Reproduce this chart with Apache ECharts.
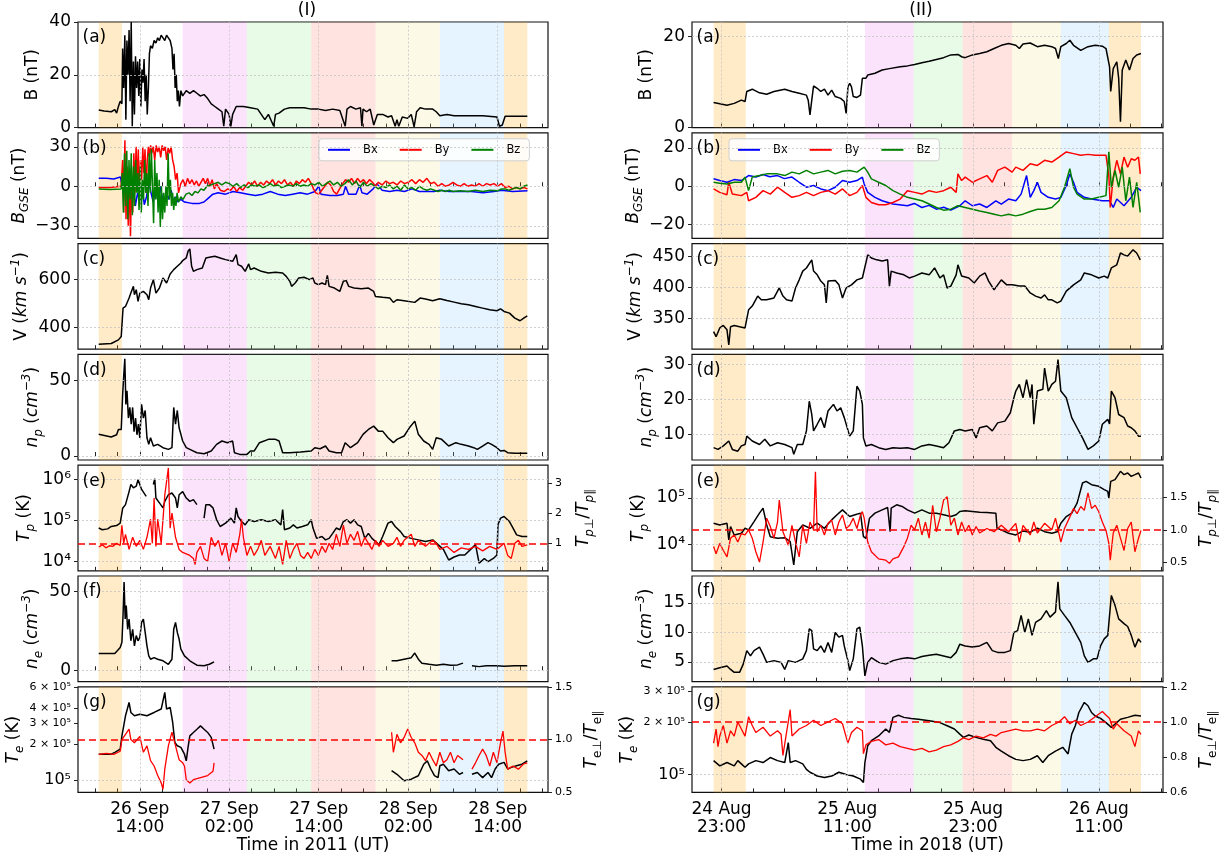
<!DOCTYPE html>
<html><head><meta charset="utf-8">
<script src="https://cdn.jsdelivr.net/npm/echarts/dist/echarts.min.js"></script>
<style>html,body{margin:0;padding:0;background:#fff}#c{width:1222px;height:862px}</style>
</head><body><div id="c"></div>
<script>
// ---------------- DATA (hours; left: since 26 Sep 2011 00:00 UT, right: since 24 Aug 2018 00:00 UT) ----------------
const L_xRange = [5.71, 68.75];
const R_xRange = [20.18, 65.13];
const L_labelHours = [14, 26, 38, 50, 62];
const L_labelText = ['26 Sep\n14:00', '27 Sep\n02:00', '27 Sep\n14:00', '28 Sep\n02:00', '28 Sep\n14:00'];
const R_labelHours = [23, 35, 47, 59];
const R_labelText = ['24 Aug\n23:00', '25 Aug\n11:00', '25 Aug\n23:00', '26 Aug\n11:00'];
const L_bands = [[8.49, 11.60], [19.75, 28.37], [28.37, 36.99], [36.99, 45.62], [45.62, 54.24], [54.24, 62.86], [62.86, 65.98]];
const R_bands = [[22.24, 25.31], [36.68, 41.33], [41.33, 46.01], [46.01, 50.73], [50.73, 55.38], [55.38, 59.96], [59.96, 63.03]];
const compNames = ['Bx', 'By', 'Bz'];

const L_B = [[8.49,6.7],[9.21,6.3],[10.17,6.0],[10.65,6.8],[10.89,5.5],[11.13,8],[11.37,10],[11.6,9],[11.7,30],[11.84,15],[11.99,35],[12.13,3],[12.27,33],[12.42,20],[12.56,37],[12.7,10],[12.85,40],[12.99,0.5],[13.14,25],[13.28,5],[13.42,27],[13.57,15],[13.71,25],[13.86,12],[14.0,26],[14.14,8],[14.29,22],[14.43,17],[14.57,26],[14.72,10],[14.86,20],[15.0,5],[15.15,15],[15.29,28],[15.44,31],[15.68,30],[15.92,33],[16.16,32],[16.4,34],[16.63,33],[16.87,35],[17.11,34],[17.35,33],[17.59,35],[17.83,34],[18.07,33],[18.31,30],[18.45,22],[18.6,28],[18.74,15],[18.89,20],[19.03,10],[19.17,14],[19.32,8],[19.51,14],[19.75,12],[20.23,14],[20.71,13],[21.2,14],[21.66,13],[22.1,12],[22.62,12.5],[23.1,11],[23.58,9],[24.06,8],[24.54,7],[25.02,6],[25.26,0.5],[25.5,7],[25.98,5],[26.21,0.5],[26.45,5],[26.93,8],[27.89,8],[28.85,7.5],[29.81,7],[30.29,5],[30.77,3],[31.25,5],[31.96,0.5],[32.2,5],[32.68,5.5],[33.4,7],[34.12,7.5],[35.08,7.5],[36.04,7.5],[37.0,7],[37.95,7],[38.91,6.5],[39.87,7],[40.83,6.5],[41.55,0.5],[41.79,7],[42.26,8],[42.98,7],[43.6,7.5],[43.79,0.5],[43.94,7],[44.42,6],[44.9,7],[45.38,1],[45.62,0.3],[45.86,5],[46.58,5],[47.29,4],[47.77,4.5],[48.25,0.5],[48.49,3],[48.73,0.5],[49.21,4],[49.93,3.5],[50.41,5],[50.79,0.3],[51.12,6],[51.6,7.5],[52.32,7],[53.28,7],[53.76,6],[54.24,4.5],[55.2,5],[56.16,4.5],[58.08,4.5],[59.99,4.5],[61.91,4],[62.24,0.5],[62.62,1],[63.0,4.3],[64.3,4.3],[65.98,4.3]];

const L_Bx = [[8.49,6],[9.5,6],[10.5,5.5],[11.4,7],[11.6,8],[11.8,-5],[12.0,5],[12.2,-10],[12.5,3],[12.8,-12],[13.1,2],[13.4,-15],[13.7,-5],[14.0,-12],[14.3,0],[14.6,-14],[14.9,-8],[15.2,5],[15.5,-5],[15.8,-12],[16.1,-2],[16.4,-10],[16.7,0],[17.0,-8],[17.3,-12],[17.6,-5],[17.9,-10],[18.2,-3],[18.5,-12],[18.8,-8],[19.1,-12],[19.5,-10],[20.0,-12],[21.0,-13],[22.0,-13],[22.6,-12],[23.2,-9],[23.8,-6],[24.5,-5],[25.5,-6],[26.5,-4],[27.5,-5],[28.5,-6],[29.5,-7],[30.5,-6],[31.5,-4],[32.5,-6],[33.5,-7],[34.5,-6],[35.5,-5],[36.5,-6],[37.5,-4],[38.0,0],[38.3,-6],[39.5,-7],[40.5,-7],[41.3,-6],[41.6,0],[42.0,-6],[43.0,-6],[43.5,1],[43.8,-5],[44.5,-6],[45.3,-2],[45.8,2],[46.5,-3],[47.5,-4],[48.5,-3],[49.5,-4],[50.5,-2],[51.5,-4],[52.5,-4],[53.5,-4],[54.2,-3],[55.5,-4],[57,-4],[58.5,-4],[60,-5],[61.5,-4],[62.5,-3],[64,-4],[66,-3.5]];

const L_By = [[8.49,-1],[10,-1],[11.5,0],[11.7,20],[11.85,-20],[12.0,35],[12.15,-25],[12.3,15],[12.45,-30],[12.6,10],[12.75,-38],[12.9,5],[13.05,-20],[13.2,25],[13.35,-5],[13.5,30],[13.65,0],[13.8,28],[13.95,-15],[14.1,20],[14.25,5],[14.4,30],[14.55,10],[14.7,28],[14.85,-5],[15.0,20],[15.15,30],[15.3,22],[15.45,31],[15.6,25],[15.8,30],[16.0,20],[16.2,31],[16.4,26],[16.6,30],[16.8,22],[17.0,31],[17.2,27],[17.4,30],[17.6,20],[17.8,29],[18.0,25],[18.2,30],[18.4,20],[18.6,15],[18.8,5],[19.0,10],[19.2,-5],[19.5,2],[19.8,5],[20.1,0],[20.4,6],[20.7,2],[21.0,5],[21.3,1],[21.6,4],[21.9,0],[22.2,3],[22.5,6],[22.8,2],[23.1,6],[23.4,0],[23.7,5],[24.0,-2],[24.3,2],[24.8,-3],[25.3,-4],[25.8,-2],[26.2,-3],[26.6,0],[27.0,-4],[27.4,-1],[27.8,-3],[28.2,0],[28.6,3],[29.0,1],[29.4,4],[29.8,0],[30.2,3],[30.6,1],[31.0,4],[31.4,2],[31.8,5],[32.2,1],[32.6,4],[33.0,2],[33.4,5],[33.8,1],[34.2,3],[34.6,0],[35.0,4],[35.4,2],[35.8,5],[36.2,3],[36.6,6],[37.0,2],[37.3,-2],[37.6,-5],[38.0,-6],[38.4,-3],[38.8,0],[39.2,3],[39.6,1],[40.0,-4],[40.4,-6],[40.8,-2],[41.2,2],[41.6,5],[42.0,3],[42.4,6],[42.8,2],[43.2,6],[43.6,3],[44.0,5],[44.4,2],[44.8,5],[45.2,3],[45.6,0],[46.0,3],[46.5,1],[47.0,4],[47.5,2],[48.0,3],[48.5,1],[49.0,4],[49.5,2],[50.0,3],[50.5,5],[51.0,2],[51.5,5],[52.0,3],[52.5,6],[53.0,2],[53.5,3],[54.0,0],[54.5,2],[55.0,0],[55.5,1],[56.0,3],[56.5,1],[57.0,0],[57.5,2],[58.0,0],[58.5,1],[59.0,0],[59.5,2],[60.0,0],[60.5,2],[61.0,1],[61.5,2],[62.0,0],[62.5,2],[63.0,-1],[63.5,0],[64.0,-2],[64.5,-1],[65.0,-2],[65.5,-1],[66.0,-2]];

const L_Bz = [[8.49,-2],[10,-2.5],[11.5,-2],[11.65,10],[11.8,-20],[11.95,25],[12.1,-15],[12.25,27],[12.4,-25],[12.55,20],[12.7,-10],[12.85,25],[13.0,-22],[13.15,15],[13.3,-15],[13.45,20],[13.6,-5],[13.75,10],[13.9,-18],[14.05,15],[14.2,-20],[14.35,5],[14.5,-10],[14.65,20],[14.8,-5],[14.95,10],[15.1,-15],[15.25,25],[15.4,-5],[15.55,28],[15.7,0],[15.85,-28],[16.0,20],[16.15,-10],[16.3,10],[16.45,-20],[16.6,5],[16.75,-31],[16.9,0],[17.05,-25],[17.2,-5],[17.35,-20],[17.5,0],[17.65,-15],[17.8,25],[17.95,-10],[18.1,5],[18.25,-15],[18.4,-5],[18.55,-18],[18.7,-8],[18.85,-15],[19.0,-5],[19.2,-12],[19.5,-8],[19.8,-10],[20.2,-6],[20.6,-5],[21.0,-7],[21.4,-4],[21.8,-5],[22.2,-2],[22.6,-3],[23.0,0],[23.5,1],[24.0,2],[24.5,3],[25.0,1],[25.5,3],[26.0,2],[26.5,0],[27.0,2],[27.5,-1],[28.0,1],[28.5,-1],[29.0,1],[29.5,0],[30.0,1],[30.5,-1],[31.0,0],[31.5,2],[32.0,0],[32.5,1],[33.0,-1],[33.5,0],[34.0,1],[34.5,0],[35.0,2],[35.5,0],[36.0,1],[36.5,0],[37.0,2],[37.5,1],[38.0,3],[38.5,0],[39.0,2],[39.5,4],[40.0,1],[40.5,3],[41.0,0],[41.5,2],[42.0,5],[42.5,1],[43.0,4],[43.5,-1],[44.0,3],[44.5,0],[45.0,2],[45.5,0],[46.0,-2],[46.5,0],[47.0,-1],[47.5,1],[48.0,-2],[48.5,0],[49.0,-3],[49.5,1],[50.0,-2],[50.5,-1],[51.0,-3],[51.5,0],[52.0,-2],[52.5,-3],[53.0,-2],[53.5,-3],[54.0,-4],[54.5,-3],[55.0,-4],[55.5,-3],[56.0,-4],[57,-3.5],[58,-4],[59,-3],[60,-4],[61,-3],[62,-3.5],[62.5,-2],[63,-2],[63.5,-3],[64,-2],[64.5,-1],[65,-2],[65.5,0],[66,1]];

const L_V = [[8.49,330],[10.17,333],[11.13,348],[11.51,362],[11.6,365],[11.75,481],[12.08,488],[12.32,495],[12.56,523],[12.8,544],[13.14,572],[13.28,537],[13.52,558],[13.76,509],[14.0,544],[14.48,551],[14.96,537],[15.2,516],[15.44,565],[15.82,600],[16.16,544],[16.63,565],[17.11,607],[17.59,586],[18.07,624],[18.55,642],[19.03,656],[19.51,670],[19.75,680],[20.23,691],[20.47,719],[20.71,729],[20.95,656],[21.19,635],[21.66,642],[22.38,649],[22.86,691],[23.34,694],[24.06,698],[24.78,691],[25.5,684],[26.45,677],[26.93,705],[27.17,663],[27.65,656],[28.13,635],[28.61,666],[28.85,642],[29.33,649],[30.29,635],[31.24,628],[32.2,631],[33.16,628],[33.64,614],[34.12,593],[34.36,572],[34.84,586],[35.32,607],[36.03,610],[36.75,600],[37.23,607],[37.47,586],[37.95,579],[38.43,586],[38.91,579],[39.15,618],[39.39,572],[40.11,565],[40.82,551],[41.3,593],[41.69,596],[42.02,572],[42.74,565],[43.7,562],[44.66,565],[45.37,551],[45.61,530],[46.57,526],[47.53,523],[48.01,505],[48.49,516],[49.45,512],[50.88,505],[51.6,523],[52.32,519],[53.28,512],[54.24,520],[55.19,513],[56.15,506],[57.11,499],[58.07,495],[59.03,488],[59.98,481],[60.94,474],[61.9,470],[62.38,478],[62.86,467],[63.58,460],[64.3,439],[65.01,428],[65.49,439],[65.97,449]];

const L_np = [[8.49,14.3],[10.17,12.5],[10.89,14],[11.13,17.5],[11.51,17.5],[11.7,40.6],[11.84,52.6],[11.99,64],[12.13,34],[12.28,43],[12.47,25],[12.66,32],[12.85,21],[13.04,32],[13.23,16],[13.43,25],[13.62,14],[13.81,21],[14.0,12],[14.24,34],[14.48,25],[14.72,30],[14.96,12],[15.2,7.7],[15.44,12],[15.82,6.6],[16.4,7.7],[17.11,5.5],[17.83,4.4],[18.31,5.5],[18.55,32],[18.79,21],[19.03,30],[19.27,18.6],[19.51,14.3],[19.75,9.9],[20.23,5.5],[20.71,4.4],[21.66,2.2],[22.62,1.5],[23.58,3.3],[24.3,7.7],[25.02,9.9],[25.74,8.8],[26.45,9.9],[26.69,2.2],[27.41,1.1],[28.37,1.1],[28.85,3.3],[29.33,3.3],[30.05,8.8],[31.24,11],[32.2,11],[32.68,9.9],[33.16,2.2],[34.12,2.2],[35.56,2.6],[36.99,3.3],[37.47,5.5],[38.19,4.8],[38.91,6.6],[39.39,3.3],[40.35,2.2],[41.06,2.2],[41.54,8.8],[42.26,5.5],[43.22,8.8],[43.94,14.3],[44.66,17.5],[45.37,19.7],[45.61,20.8],[45.99,16.4],[46.57,16.4],[47.29,12],[48.01,8.8],[48.49,11],[49.45,13.2],[50.16,18.6],[50.88,23],[51.36,14.3],[52.08,9.9],[52.8,7.7],[53.28,4.4],[53.76,12],[54.48,11],[55.43,6.6],[56.39,8.8],[57.11,7.7],[58.07,6.6],[58.79,5.5],[59.27,4.4],[59.98,6.6],[60.7,8.8],[61.18,7.7],[61.9,5.5],[62.38,3.3],[62.86,3.7],[63.34,2.2],[64.3,1.8],[65.97,1.8]];

const L_Tp = [[8.49,6.6e4],[8.97,6.0e4],[9.69,6.3e4],[10.17,7.2e4],[10.89,7.6e4],[11.37,8.7e4],[11.6,9.5e4],[11.7,2.0e5],[12.08,2.45e5],[12.56,5.1e5],[12.8,7.6e5],[13.14,6.3e5],[13.52,6.9e5],[13.76,1.0e6],[14.0,7.6e5],[14.24,5.75e5],[14.48,6.3e5],[14.86,3.9e5],[14.96,'-'],[15.68,'-'],[15.82,7.6e5],[16.01,1.05e6],[16.16,3.55e5],[16.63,2.7e5],[17.11,2.04e5],[17.35,2.95e5],[17.83,4.27e5],[18.31,4.7e5],[18.79,3.55e5],[19.03,2.04e5],[19.27,4.27e5],[19.75,5.1e5],[20.23,3.55e5],[20.71,2.95e5],[21.19,3.24e5],[21.66,2.45e5],[21.9,'-'],[22.5,'-'],[22.62,1.15e5],[22.86,2.45e5],[23.34,2.45e5],[23.82,2.04e5],[24.3,1.05e5],[24.78,7.2e4],[25.5,8.7e4],[26.21,1.15e5],[26.69,8.7e4],[26.93,2.04e5],[27.17,1.26e5],[27.65,9.5e4],[28.13,7.9e4],[28.61,1.05e5],[29.33,9.5e4],[30.29,1.05e5],[31.24,9.5e4],[32.2,1.05e5],[32.92,7.9e4],[33.16,1.86e5],[33.4,6.0e4],[34.12,6.6e4],[34.6,7.9e4],[35.08,6.6e4],[35.8,7.2e4],[36.51,7.9e4],[36.99,1.05e5],[37.23,6.6e4],[37.71,3.7e4],[38.43,4.1e4],[38.91,3.4e4],[39.39,3.7e4],[39.87,4.9e4],[40.35,6.6e4],[40.83,6.0e4],[41.3,9.5e4],[41.78,1.05e5],[42.26,8.7e4],[42.74,1.05e5],[43.22,7.9e4],[43.7,7.2e4],[44.18,3.7e4],[44.66,4.9e4],[45.14,3.7e4],[45.61,3.1e4],[46.09,2.6e4],[46.57,4.1e4],[47.29,8.7e4],[47.77,9.5e4],[48.25,7.2e4],[48.97,5.4e4],[49.45,4.1e4],[50.41,3.7e4],[51.36,3.4e4],[52.32,3.1e4],[53.28,3.4e4],[54.0,2.6e4],[54.72,2.0e4],[55.43,1.1e4],[56.15,1.3e4],[56.87,1.45e4],[57.59,1.45e4],[58.55,2.14e4],[59.03,2.6e4],[59.51,0.92e4],[60.22,1.2e4],[60.7,1.0e4],[61.42,1.2e4],[61.9,1.45e4],[62.04,7.9e4],[62.38,1.15e5],[62.86,1.26e5],[63.58,9.5e4],[64.06,6.6e4],[64.54,4.5e4],[65.26,4.1e4],[65.97,4.1e4]];

const L_TpRatio = [[8.49,0.88],[8.97,0.95],[9.45,0.85],[9.93,0.92],[10.41,0.9],[10.89,1.0],[11.37,0.93],[11.6,1.6],[11.84,1.0],[12.08,1.3],[12.56,0.8],[13.04,1.2],[13.52,0.9],[14.0,1.1],[14.48,0.8],[14.96,1.2],[15.44,1.8],[15.68,1.0],[15.92,2.5],[16.16,0.9],[16.4,1.8],[16.87,1.0],[17.35,2.6],[17.83,3.5],[18.07,1.5],[18.31,2.0],[18.79,1.2],[19.27,0.8],[19.75,0.7],[20.23,0.65],[20.71,0.6],[21.19,0.5],[21.42,0.3],[21.66,0.7],[22.14,0.9],[22.62,0.5],[23.1,0.4],[23.58,1.2],[24.06,0.9],[24.54,1.1],[25.02,0.6],[25.5,1.0],[25.98,0.4],[26.45,1.0],[26.93,0.7],[27.41,1.3],[27.65,1.8],[27.89,1.2],[28.37,0.6],[28.85,0.9],[29.33,0.6],[29.81,0.8],[30.29,1.1],[30.77,0.6],[31.48,0.9],[32.2,0.5],[32.68,0.9],[33.16,0.3],[33.64,1.1],[34.12,0.5],[34.6,0.8],[35.08,1.0],[35.56,0.6],[36.03,0.5],[36.51,0.7],[36.99,0.5],[37.47,0.8],[37.95,0.6],[38.43,0.9],[38.91,0.7],[39.39,1.0],[39.87,0.8],[40.35,1.3],[40.83,0.9],[41.3,1.6],[41.78,1.0],[42.26,1.3],[42.74,1.1],[43.22,1.4],[43.7,0.9],[44.18,1.2],[44.66,1.0],[45.14,0.8],[45.61,1.1],[46.09,0.9],[46.57,1.1],[47.29,0.9],[48.01,1.0],[48.49,1.2],[48.97,0.9],[49.45,1.1],[50.41,1.3],[50.88,0.9],[51.36,1.1],[52.32,0.9],[53.28,1.1],[53.76,1.0],[54.24,0.8],[55.19,0.9],[56.15,0.7],[57.11,0.85],[58.07,0.8],[59.03,0.9],[59.98,0.75],[60.94,0.9],[61.9,0.8],[62.86,1.0],[63.34,0.6],[63.82,0.5],[64.3,1.0],[64.78,1.1],[65.26,0.9],[65.97,0.95]];

const L_ne = [[8.49,10.6],[10.65,10.6],[10.89,11.3],[11.37,14.5],[11.6,17.7],[11.75,34.7],[11.89,56],[12.04,32.5],[12.18,41],[12.37,26],[12.56,32.5],[12.8,18.7],[13.04,26],[13.28,15.5],[13.52,22],[13.76,18.7],[14.0,20.8],[14.24,30.4],[14.48,32.5],[14.72,24],[14.96,15.5],[15.2,9.1],[15.44,7],[15.92,8],[16.4,7],[17.11,6],[17.83,3.8],[18.31,7],[18.55,26],[18.79,30.4],[19.03,24],[19.27,19.8],[19.51,13.4],[19.75,12.3],[19.99,9.1],[20.23,10.2],[20.71,6],[21.66,3.2],[22.62,2.8],[23.34,3.8],[23.96,5.3],[24.0,'-'],[47.7,'-'],[47.77,6],[48.49,6],[49.45,7],[50.41,8],[50.88,10.9],[51.36,7],[51.84,4.5],[52.8,3.8],[53.76,3.2],[54.72,3.8],[55.67,3.2],[56.63,3.4],[57.35,4.5],[57.6,'-'],[58.4,'-'],[58.55,2.8],[59.51,2.3],[60.46,2.8],[61.9,2.8],[62.86,2.6],[64.3,2.8],[65.97,2.8]];

const L_Te = [[8.49,1.65e5],[10.17,1.65e5],[10.65,1.71e5],[11.37,1.82e5],[11.6,2.35e5],[12.08,3.46e5],[12.56,4.47e5],[12.8,3.69e5],[13.28,3.46e5],[14.0,3.57e5],[14.96,3.46e5],[15.92,3.69e5],[16.87,3.94e5],[17.35,5.43e5],[17.59,3.94e5],[18.07,4.06e5],[18.41,3.04e5],[18.7,2.07e5],[19.03,1.94e5],[19.51,1.88e5],[19.99,1.65e5],[20.23,1.45e5],[20.47,1.88e5],[20.71,2.35e5],[21.19,2.51e5],[21.66,2.67e5],[22.14,2.85e5],[22.62,2.67e5],[23.1,2.51e5],[23.58,2.28e5],[23.96,1.82e5],[24.0,'-'],[47.7,'-'],[47.77,1.2e5],[48.49,1.12e5],[49.45,9.9e4],[50.41,1.02e5],[51.36,1.09e5],[52.08,1.36e5],[52.56,1.45e5],[53.04,1.24e5],[53.52,1.09e5],[54.0,1.05e5],[54.24,1.32e5],[54.72,1.36e5],[55.43,1.2e5],[56.15,1.24e5],[56.87,1.12e5],[57.35,1.16e5],[57.6,'-'],[58.4,'-'],[58.55,1.12e5],[59.27,1.16e5],[59.98,1.05e5],[60.7,1.16e5],[61.18,1.05e5],[61.66,1.24e5],[62.14,1.36e5],[62.86,1.41e5],[63.34,1.24e5],[63.82,1.28e5],[64.54,1.32e5],[65.26,1.36e5],[65.97,1.45e5]];

const L_TeRatio = [[8.49,0.86],[9.5,0.87],[10.5,0.86],[11.37,0.89],[11.6,1.0],[12.08,1.05],[12.56,1.1],[12.8,1.0],[13.28,0.97],[14.0,1.03],[14.48,0.88],[14.96,0.94],[15.44,0.8],[15.92,0.75],[16.4,0.66],[16.87,0.59],[17.11,0.53],[17.35,0.72],[17.83,0.94],[18.31,1.07],[18.79,0.94],[19.27,0.81],[19.75,0.78],[19.99,0.75],[20.23,0.62],[20.71,0.59],[21.19,0.62],[22.14,0.64],[23.1,0.66],[23.82,0.7],[23.96,0.78],[24.0,'-'],[47.7,'-'],[47.77,1.07],[48.01,0.88],[48.49,1.05],[48.97,0.97],[49.45,1.02],[49.93,1.1],[50.41,1.02],[50.88,0.97],[51.36,0.88],[51.84,0.85],[52.32,0.8],[52.8,0.88],[53.28,0.81],[53.76,0.75],[54.24,0.88],[54.72,0.78],[55.19,0.81],[55.67,0.88],[56.15,0.78],[56.63,0.85],[57.35,0.81],[57.6,'-'],[58.4,'-'],[58.55,0.72],[59.03,0.78],[59.51,0.85],[59.98,0.91],[60.46,0.85],[60.94,0.75],[61.42,0.88],[61.9,0.78],[62.38,0.97],[62.71,1.08],[63.0,0.88],[63.34,0.72],[64.06,0.75],[64.78,0.72],[65.49,0.77],[65.97,0.78]];

const R_B = [[22.24,5.5],[22.83,5.2],[23.52,4.9],[24.21,5.3],[24.89,6.0],[25.24,5.7],[25.41,7.9],[25.93,8.4],[26.62,7.6],[27.31,7.3],[28.0,7.9],[29.03,8.4],[29.72,7.9],[30.41,7.5],[31.1,7.1],[31.27,6.0],[31.44,2.8],[31.61,6.0],[31.78,9.1],[32.13,8.6],[32.47,7.9],[32.82,8.4],[33.16,7.1],[33.51,8.2],[33.85,6.8],[34.37,6.4],[34.71,5.7],[34.89,3.1],[35.06,8.9],[35.23,9.7],[35.4,8.9],[35.57,6.8],[35.92,6.6],[36.26,7.1],[36.44,10.8],[36.78,10.8],[36.95,11.5],[37.64,11.9],[38.33,12.6],[39.02,12.9],[40.05,13.3],[40.74,13.5],[41.43,13.8],[42.12,14.2],[42.81,14.5],[43.5,14.9],[44.19,15.3],[44.88,15.9],[45.56,16.0],[45.91,15.5],[46.25,15.3],[46.94,15.9],[47.63,16.2],[48.32,16.6],[49.01,17.3],[49.7,18.0],[50.39,18.4],[51.08,18.0],[51.42,17.3],[51.77,18.3],[52.46,18.5],[53.14,17.7],[53.83,18.0],[54.52,17.7],[54.87,17.3],[55.14,15.1],[55.38,17.7],[55.9,18.4],[56.24,19.1],[56.59,18.0],[57.28,16.9],[57.97,17.7],[58.66,18.0],[59.34,17.8],[59.69,17.3],[59.86,16.9],[60.03,13.3],[60.14,7.9],[60.38,12.9],[60.72,14.4],[60.9,10.8],[61.07,1.3],[61.24,12.6],[61.58,14.8],[61.93,12.6],[62.27,15.1],[62.62,15.9],[63.03,16.2]];

const R_Bx = [[22.24,3.9],[22.83,3.0],[23.52,2.1],[24.2,3.5],[24.89,3.0],[25.58,5.6],[26.27,4.8],[26.96,6.2],[27.6,5.0],[28.34,5.6],[29.0,4.0],[29.72,4.8],[30.41,2.1],[31.1,-0.5],[31.78,0.4],[32.47,-1.4],[33.16,-2.3],[33.85,-0.5],[34.54,3.0],[35.23,2.1],[35.92,3.0],[36.44,4.8],[36.61,1.2],[36.95,-3.2],[37.64,-5.8],[38.33,-7.6],[39.36,-9.3],[40.74,-10.2],[41.4,-9.0],[42.12,-11.1],[42.8,-10.0],[43.5,-12.0],[44.2,-11.0],[44.88,-12.5],[45.74,-10.2],[46.25,-7.6],[46.94,-10.2],[47.63,-9.3],[48.32,-11.1],[49.18,-7.6],[49.7,-9.3],[50.39,-6.7],[51.08,-7.6],[51.59,-4.1],[52.11,5.6],[52.46,-5.8],[52.8,-2.3],[53.14,2.1],[53.49,-3.2],[54.18,-5.8],[54.87,-6.7],[55.38,-5.8],[55.9,0.4],[56.24,6.5],[56.59,2.1],[56.93,-3.2],[57.62,-5.8],[58.31,-6.7],[59.34,-7.6],[60.03,-7.6],[60.38,-11.1],[60.72,-6.7],[61.41,-10.2],[62.1,-5.8],[62.62,-0.5],[63.03,-2.3]];

const R_By = [[22.24,-1.4],[22.83,-3.2],[23.52,-4.4],[23.69,2.1],[24.03,-4.1],[24.89,-4.9],[25.41,-3.2],[25.58,-7.6],[26.27,-5.8],[26.96,-2.3],[27.65,-4.1],[28.34,-0.5],[29.03,-3.2],[29.72,-5.8],[30.41,-4.9],[31.1,-3.2],[31.78,-4.9],[32.47,-3.2],[33.16,-2.3],[33.85,-4.1],[34.54,-1.4],[35.23,-4.9],[35.92,-3.2],[36.44,0.4],[36.78,-5.8],[37.3,-8.5],[37.99,-9.7],[38.67,-9.7],[39.36,-8.5],[40.05,-6.7],[40.74,-2.3],[41.43,-3.2],[42.12,-4.1],[42.81,-2.3],[43.5,-3.2],[44.19,-2.3],[44.88,-0.5],[45.39,-3.2],[45.56,6.5],[45.91,3.0],[46.25,4.8],[46.94,2.1],[47.63,3.9],[48.32,5.6],[48.84,2.1],[49.35,8.3],[50.04,10.0],[50.73,7.4],[51.08,10.0],[51.77,8.3],[52.46,11.8],[53.14,10.9],[53.83,13.6],[54.52,12.7],[55.21,15.3],[55.9,18.0],[56.59,17.1],[57.28,16.2],[57.97,16.7],[58.66,16.2],[59.69,16.2],[59.96,5.6],[60.1,-11.1],[60.38,4.8],[60.72,13.6],[61.07,6.5],[61.41,15.3],[61.76,10.0],[62.1,14.4],[62.45,13.6],[62.79,15.3],[62.96,6.5]];

const R_Bz = [[22.24,2.1],[22.83,1.6],[23.52,1.2],[24.21,2.1],[24.89,2.1],[25.24,4.8],[25.58,-2.3],[25.93,4.8],[26.62,5.6],[27.31,6.5],[28.34,6.5],[29.03,5.6],[29.72,7.4],[30.41,6.5],[31.1,8.3],[31.78,6.5],[32.47,7.4],[33.16,8.3],[33.85,6.5],[34.54,7.9],[35.23,8.3],[35.92,7.4],[36.61,10.0],[36.95,7.4],[37.3,3.9],[37.99,2.1],[38.67,0.4],[39.36,-2.3],[40.05,-4.1],[40.74,-5.8],[41.43,-6.7],[42.12,-7.6],[42.81,-9.3],[43.5,-11.1],[44.19,-12.5],[44.88,-12.0],[45.56,-10.2],[46.25,-11.1],[46.94,-12.0],[47.63,-12.9],[48.32,-13.7],[49.01,-14.6],[49.7,-15.5],[50.39,-14.6],[51.08,-15.5],[51.77,-14.6],[52.46,-13.2],[53.14,-12.0],[53.83,-12.0],[54.52,-11.1],[55.21,-7.6],[55.73,-0.5],[56.24,9.2],[56.59,-0.5],[56.93,-4.1],[57.62,-6.7],[58.31,-6.7],[59.0,-5.8],[59.69,-4.9],[59.96,18.0],[60.2,-0.5],[60.55,8.3],[60.9,-0.5],[61.24,10.0],[61.58,-7.6],[61.93,4.8],[62.27,-11.1],[62.62,2.1],[62.96,-13.7]];

const R_V = [[22.24,329],[22.48,321],[22.83,335],[23.17,339],[23.52,332],[23.69,308],[23.86,337],[24.21,339],[24.72,337],[25.24,335],[25.58,364],[25.93,370],[26.45,386],[26.79,380],[27.31,380],[28.0,383],[28.51,399],[28.86,386],[29.2,380],[29.72,378],[30.06,399],[30.41,412],[30.75,426],[31.1,431],[31.61,444],[31.78,426],[32.13,420],[32.47,410],[32.82,404],[32.99,375],[33.16,410],[33.85,411],[34.2,404],[34.54,383],[34.89,399],[35.4,404],[35.92,412],[36.44,415],[36.61,413],[36.95,452],[37.3,447],[37.81,444],[38.33,442],[38.85,444],[39.02,402],[39.19,426],[39.71,423],[40.4,420],[40.91,415],[41.43,418],[42.12,423],[42.81,420],[43.33,431],[43.84,415],[44.19,420],[44.53,399],[44.88,402],[45.39,420],[45.56,436],[45.91,418],[46.6,415],[47.11,407],[47.63,418],[48.15,423],[48.49,410],[49.01,396],[49.7,412],[50.22,404],[50.73,404],[51.42,402],[51.94,402],[52.46,391],[52.97,386],[53.49,383],[53.83,388],[54.18,380],[54.52,380],[55.04,375],[55.38,378],[55.9,394],[56.59,404],[57.28,412],[57.62,423],[58.31,420],[59.0,415],[59.52,418],[59.86,415],[60.2,431],[60.72,436],[61.07,455],[61.41,452],[61.76,450],[62.27,460],[62.62,455],[62.96,444]];

const R_np = [[22.24,6.2],[22.66,5.7],[23.17,6.7],[23.69,8.1],[24.03,5.7],[24.55,5.2],[24.89,6.7],[25.24,7.1],[25.41,9.5],[25.93,8.1],[26.62,7.1],[27.13,8.6],[27.65,6.7],[28.34,7.6],[29.03,7.1],[29.72,6.2],[29.89,4.3],[30.23,7.1],[30.75,7.1],[31.1,11.0],[31.37,19.5],[31.61,15.7],[31.78,11.0],[32.13,12.9],[32.47,14.8],[32.82,11.9],[33.16,16.7],[33.68,18.6],[34.02,16.7],[34.37,17.6],[34.71,14.8],[35.23,9.5],[35.57,11.0],[35.92,23.8],[36.19,22.4],[36.44,18.6],[36.54,9.0],[36.78,6.7],[37.3,7.1],[37.99,6.2],[38.67,5.7],[39.36,6.2],[40.05,6.0],[40.74,6.2],[41.43,5.7],[42.12,6.7],[42.81,7.1],[43.5,6.7],[44.19,6.2],[44.7,7.6],[45.22,11.0],[45.74,11.4],[46.25,11.0],[46.94,11.4],[47.29,9.0],[47.63,11.9],[48.32,12.4],[48.84,11.0],[49.35,13.3],[50.04,13.8],[50.56,16.2],[50.9,20.5],[51.08,22.4],[51.42,24.3],[51.77,20.5],[52.11,25.7],[52.46,20.5],[52.63,24.3],[52.8,12.9],[53.14,22.4],[53.66,22.9],[53.83,29.0],[54.18,22.4],[54.52,24.3],[54.87,25.2],[55.11,31.4],[55.38,22.4],[55.9,20.5],[56.42,14.8],[56.93,11.9],[57.45,9.0],[57.97,5.7],[58.48,6.7],[59.0,8.1],[59.34,12.9],[59.86,14.3],[60.03,13.0],[60.2,22.4],[60.55,20.5],[60.9,15.7],[61.41,14.8],[61.76,12.4],[62.1,11.9],[62.45,11.0],[62.79,9.5],[63.03,9.5]];

const R_Tp = [[22.24,2.84e4],[22.83,2.61e4],[23.52,2.84e4],[23.69,1.24e4],[23.86,2.4e4],[24.21,1.59e4],[24.89,1.73e4],[25.24,2.21e4],[25.58,2.04e4],[26.1,3.08e4],[26.62,4.67e4],[26.96,5.98e4],[27.31,2.61e4],[27.65,1.46e4],[28.34,1.35e4],[29.03,1.39e4],[29.55,1.14e4],[29.89,3.6e3],[30.23,1.87e4],[30.75,2.61e4],[31.44,2.21e4],[32.13,2.84e4],[32.82,2.21e4],[33.51,3.35e4],[34.02,4.3e4],[34.54,5.5e4],[35.23,3.95e4],[35.75,4.3e4],[36.26,4.67e4],[36.54,1.46e4],[36.78,1.35e4],[37.12,3.64e4],[37.64,4.67e4],[38.33,5.5e4],[38.85,6.18e4],[39.09,1.87e4],[39.19,5.98e4],[39.71,7.06e4],[40.23,6.5e4],[40.74,5.5e4],[41.43,4.67e4],[42.12,5.5e4],[42.81,4.67e4],[43.5,4.67e4],[44.19,4.3e4],[44.88,3.95e4],[45.39,4.3e4],[45.74,5.07e4],[46.25,5.24e4],[46.94,5.07e4],[47.63,4.91e4],[48.32,4.82e4],[49.18,4.67e4],[49.29,2.21e4],[49.7,2.04e4],[50.39,1.73e4],[51.08,1.59e4],[51.77,1.94e4],[52.46,1.82e4],[53.14,2.21e4],[53.83,1.87e4],[54.52,1.73e4],[55.04,1.87e4],[55.38,2.84e4],[55.9,3.95e4],[56.42,4.67e4],[56.93,7.67e4],[57.45,2.07e5],[57.79,2.25e5],[58.31,1.91e5],[59.0,1.76e5],[59.52,1.49e5],[59.86,1.37e5],[59.96,9.8e4],[60.14,2.25e5],[60.55,2.45e5],[61.07,3.7e5],[61.41,3.13e5],[61.76,3.4e5],[62.1,2.88e5],[62.45,3.13e5],[62.79,3.4e5],[63.03,2.66e5]];

const R_TpRatio = [[22.24,0.74],[22.48,0.63],[22.83,0.79],[23.17,0.68],[23.52,0.58],[23.86,0.87],[24.21,0.92],[24.55,0.81],[24.89,0.94],[25.24,0.92],[25.58,1.0],[25.93,0.87],[26.27,0.66],[26.62,0.5],[26.96,0.81],[27.31,1.18],[27.65,1.05],[28.0,0.87],[28.34,1.12],[28.51,1.46],[28.86,0.97],[29.37,0.76],[29.72,1.07],[30.06,0.81],[30.41,0.58],[30.75,1.07],[31.1,0.79],[31.44,1.12],[31.78,1.0],[31.96,1.9],[32.13,0.97],[32.47,1.07],[32.82,0.92],[33.16,1.1],[33.51,1.15],[33.85,0.92],[34.2,1.12],[34.54,1.23],[34.89,1.02],[35.23,1.07],[35.57,1.18],[35.92,1.02],[36.26,1.23],[36.44,1.28],[36.61,1.18],[36.95,0.81],[37.3,0.66],[37.99,0.55],[38.67,0.53],[39.02,0.48],[39.36,0.55],[39.88,0.58],[40.4,0.74],[40.74,0.87],[41.09,1.07],[41.43,1.0],[41.78,1.18],[42.12,0.92],[42.46,1.12],[42.81,0.87],[43.15,1.38],[43.5,0.97],[43.84,1.18],[44.19,1.46],[44.53,1.51],[44.88,1.07],[45.22,1.18],[45.56,0.92],[45.91,1.12],[46.25,0.97],[46.6,1.07],[46.94,0.92],[47.29,1.05],[47.63,0.95],[48.32,1.02],[49.01,0.97],[49.7,1.07],[50.39,0.97],[51.08,1.1],[51.42,0.81],[51.77,1.07],[52.46,0.92],[52.8,1.12],[53.14,0.95],[53.83,1.1],[54.52,1.0],[54.87,1.18],[55.38,0.81],[55.73,1.02],[56.24,1.2],[56.59,1.33],[56.93,1.25],[57.28,1.36],[57.62,1.3],[57.97,1.57],[58.31,1.33],[58.66,1.38],[59.0,1.28],[59.34,1.12],[59.69,0.99],[59.96,0.79],[60.1,0.53],[60.38,0.95],[60.72,1.07],[61.07,0.87],[61.41,0.68],[61.76,1.02],[62.1,1.12],[62.45,0.66],[62.79,0.87],[63.03,0.99]];

const R_ne = [[22.24,3.7],[22.83,4.0],[23.52,4.3],[23.86,3.7],[24.21,3.2],[24.72,3.2],[25.07,4.6],[25.24,4.9],[25.41,6.9],[25.76,6.0],[26.1,6.9],[26.62,7.5],[26.96,6.3],[27.31,4.9],[28.0,5.2],[28.68,4.9],[29.03,3.7],[29.37,5.2],[30.06,4.9],[30.75,5.5],[31.1,6.9],[31.37,10.6],[31.61,10.3],[31.78,7.2],[32.13,6.9],[32.47,7.7],[32.82,6.6],[33.16,8.3],[33.51,6.6],[33.85,10.0],[34.2,9.2],[34.54,9.5],[34.71,7.7],[35.06,5.2],[35.23,3.5],[35.57,5.5],[35.92,10.6],[36.19,10.9],[36.44,7.7],[36.54,5.5],[36.68,2.6],[36.95,4.9],[37.3,5.7],[37.99,4.9],[38.67,4.6],[39.36,5.2],[40.05,5.5],[40.74,5.7],[41.43,5.5],[42.12,5.9],[42.81,6.1],[43.5,6.3],[44.19,6.0],[44.88,5.7],[45.39,6.6],[45.74,8.0],[46.25,7.7],[46.94,7.5],[47.63,7.7],[48.32,8.3],[48.84,6.9],[49.35,6.6],[50.04,6.6],[50.56,6.9],[50.9,10.0],[51.25,10.3],[51.59,12.9],[51.94,10.0],[52.28,12.3],[52.63,9.5],[52.97,11.7],[53.49,12.3],[54.0,13.7],[54.35,12.6],[54.87,13.5],[55.11,18.6],[55.28,14.0],[55.73,12.9],[56.24,11.7],[56.76,10.0],[57.28,8.3],[57.62,6.0],[57.97,4.9],[58.48,5.5],[58.83,5.5],[59.17,7.7],[59.52,8.9],[59.86,9.5],[60.2,16.3],[60.55,14.6],[60.9,12.3],[61.41,11.5],[61.76,11.0],[62.1,9.5],[62.45,7.5],[62.79,8.9],[63.03,8.3]];

const R_Te = [[22.24,1.2e5],[22.83,1.12e5],[23.52,1.17e5],[24.21,1.12e5],[24.55,1.2e5],[24.89,1.15e5],[25.24,1.1e5],[25.58,1.15e5],[26.27,1.2e5],[26.96,1.17e5],[27.65,1.25e5],[28.34,1.2e5],[29.03,1.17e5],[29.37,1.52e5],[29.55,1.17e5],[30.06,1.2e5],[30.75,1.15e5],[31.1,1.07e5],[31.44,1.03e5],[32.13,9.8e4],[32.82,9.6e4],[33.51,9.8e4],[34.2,1.03e5],[34.89,1.0e5],[35.57,9.8e4],[36.26,9.4e4],[36.54,9.0e4],[36.68,1.17e5],[36.95,1.46e5],[37.3,1.56e5],[37.99,1.66e5],[38.67,1.82e5],[39.02,1.74e5],[39.36,2.12e5],[39.88,2.18e5],[40.4,2.12e5],[41.09,2.09e5],[41.78,2.07e5],[42.81,2.03e5],[43.84,1.98e5],[44.53,1.9e5],[45.22,1.82e5],[45.74,1.7e5],[46.08,1.63e5],[46.6,1.68e5],[47.29,1.63e5],[47.98,1.59e5],[48.67,1.56e5],[49.18,1.43e5],[49.7,1.36e5],[50.39,1.28e5],[51.08,1.22e5],[51.77,1.2e5],[52.46,1.22e5],[53.14,1.28e5],[53.66,1.17e5],[54.18,1.28e5],[54.87,1.36e5],[55.56,1.43e5],[56.07,1.31e5],[56.42,1.7e5],[56.76,1.9e5],[57.1,2.26e5],[57.62,2.58e5],[57.97,2.47e5],[58.31,2.26e5],[58.66,2.16e5],[59.17,2.09e5],[59.69,1.98e5],[60.2,1.86e5],[60.55,1.94e5],[61.07,2.07e5],[61.76,2.12e5],[62.45,2.18e5],[63.03,2.16e5]];

const R_TeRatio = [[22.24,0.88],[22.48,0.96],[22.66,0.86],[22.83,0.92],[23.17,0.98],[23.52,0.88],[23.86,0.95],[24.21,0.92],[24.55,1.0],[24.89,0.96],[25.24,0.92],[25.58,1.03],[25.93,0.98],[26.27,0.94],[26.96,0.97],[27.65,0.92],[28.34,0.95],[28.68,0.93],[28.86,0.81],[29.2,0.94],[29.55,1.07],[29.72,0.92],[30.41,0.96],[31.1,0.98],[31.78,1.01],[32.47,0.98],[33.16,1.0],[33.85,1.02],[34.54,0.99],[35.06,0.88],[35.4,0.94],[35.92,0.97],[36.44,0.95],[36.54,0.82],[36.78,0.87],[37.3,0.89],[37.99,0.9],[38.67,0.87],[39.36,0.88],[40.05,0.86],[40.74,0.85],[41.43,0.84],[42.12,0.85],[42.81,0.83],[43.5,0.84],[44.19,0.86],[44.88,0.87],[45.56,0.89],[46.08,0.91],[46.6,0.9],[47.29,0.92],[47.98,0.91],[48.67,0.93],[49.18,0.92],[49.7,0.94],[50.39,0.95],[51.08,0.96],[51.77,0.95],[52.46,0.95],[53.14,0.96],[53.83,0.95],[54.52,0.98],[55.21,1.0],[55.73,1.03],[56.24,0.99],[56.76,1.01],[57.28,0.98],[57.97,1.0],[58.66,1.03],[59.34,1.06],[60.03,1.02],[60.38,0.96],[60.72,0.99],[61.41,0.95],[62.1,0.92],[62.45,0.86],[62.79,0.95],[63.03,0.93]];

// ---------------- STYLE / LAYOUT ----------------
const FONT = 'DejaVu Sans';
const bandColors = ['rgba(255,165,0,0.22)','rgba(238,130,238,0.22)','rgba(144,238,144,0.22)','rgba(250,128,114,0.22)','rgba(240,230,140,0.22)','rgba(135,206,250,0.22)','rgba(255,165,0,0.22)'];
const compColors = ['#0000ff', '#ff0000', '#008000'];
const TOP0 = 22, STEP = 110.8, PH = 105.6;
const nameRich = {
  n: {fontSize: 17, fontFamily: FONT, color: '#000', lineHeight: 24},
  i: {fontSize: 17, fontFamily: FONT, fontStyle: 'italic', color: '#000', lineHeight: 24},
  sb: {fontSize: 12, fontFamily: FONT, fontStyle: 'italic', color: '#000', lineHeight: 12, verticalAlign: 'bottom'},
  sbn: {fontSize: 12, fontFamily: FONT, color: '#000', lineHeight: 12, verticalAlign: 'bottom'},
  sp: {fontSize: 12, fontFamily: FONT, fontStyle: 'italic', color: '#000', lineHeight: 12, verticalAlign: 'top'}
};
const lblRich = {
  b: {fontSize: 16, fontFamily: FONT, color: '#000'},
  s: {fontSize: 11, fontFamily: FONT, color: '#000'}
};
const supMap = {1e4: '10⁴', 1e5: '10⁵', 1e6: '10⁶'};
const fmtLin = v => String(v).replace('-', '−');
const fmtLogE = v => supMap[Math.round(v)] || '';
const fmtLogG = v => { const r = Math.round(v / 1e5); return r === 1 ? '{b|10⁵}' : '{s|' + r + ' × 10⁵}'; };

function range(a, b, s) { const r = []; for (let v = a; v <= b + 1e-9; v += s) r.push(v); return r; }

const columns = [
  {
    left: 78, width: 470, xr: L_xRange, lh: L_labelHours, lt: L_labelText, ticks: range(8, 68, 3), bands: L_bands,
    xName: 'Time in 2011 (UT)', title: '(I)', titleX: 307, legendLeft: 319,
    panels: [
      {min: 0, max: 40, ticks: [0, 20, 40], grid: [20], name: '{n|B (nT)}', gap: 33, series: [[L_B, '#000']]},
      {min: -39.6, max: 40.6, ticks: [-30, 0, 30], grid: [-30, 0, 30], name: '{i|B}{sb|GSE}{n| (nT)}', gap: 46, series: [[L_Bx, compColors[0], compNames[0]], [L_By, compColors[1], compNames[1]], [L_Bz, compColors[2], compNames[2]]], legend: true},
      {min: 309, max: 751, ticks: [400, 600], grid: [400, 600], name: '{n|V (}{i|km s}{sp|−1}{n|)}', gap: 44, series: [[L_V, '#000']]},
      {min: -2.6, max: 66.9, ticks: [0, 50], grid: [0, 50], name: '{i|n}{sb|p}{n| (}{i|cm}{sp|−3}{n|)}', gap: 33, series: [[L_np, '#000']]},
      {log: true, min: 6000, max: 2.24e6, ticks: [1e4, 1e5, 1e6], grid: [1e4, 1e5, 1e6], fmt: fmtLogE, name: '{i|T}{sb|p}{n| (K)}', gap: 41, series: [[L_Tp, '#000']],
        right: {min: 0.09, max: 3.59, ticks: [1, 2, 3], fmt: v => String(v), name: '{i|T}{sb|p⊥}{n|/}{i|T}{sb|p∥}', gap: 24, data: L_TpRatio}},
      {min: -7.2, max: 59.8, ticks: [0, 50], grid: [0, 50], name: '{i|n}{sb|e}{n| (}{i|cm}{sp|−3}{n|)}', gap: 33, series: [[L_ne, '#000']]},
      {log: true, min: 7.9e4, max: 6.05e5, ticks: [1e5, 2e5, 3e5, 4e5, 6e5], grid: [1e5], fmt: fmtLogG, name: '{i|T}{sb|e}{n| (K)}', gap: 52, series: [[L_Te, '#000']],
        right: {min: 0.5, max: 1.5, ticks: [0.5, 1.0, 1.5], fmt: v => v.toFixed(1), name: '{i|T}{sbn|e⊥}{n|/}{i|T}{sbn|e∥}', gap: 32, data: L_TeRatio}}
    ]
  },
  {
    left: 692, width: 471, xr: R_xRange, lh: R_labelHours, lt: R_labelText, ticks: range(23, 65, 3), bands: R_bands,
    xName: 'Time in 2018 (UT)', title: '(II)', titleX: 921, legendLeft: 729,
    panels: [
      {min: 0, max: 23.1, ticks: [0, 20], grid: [20], name: '{n|B (nT)}', gap: 33, series: [[R_B, '#000']]},
      {min: -27.3, max: 28, ticks: [-20, 0, 20], grid: [-20, 0, 20], name: '{i|B}{sb|GSE}{n| (nT)}', gap: 46, series: [[R_Bx, compColors[0], compNames[0]], [R_By, compColors[1], compNames[1]], [R_Bz, compColors[2], compNames[2]]], legend: true},
      {min: 301, max: 470, ticks: [350, 400, 450], grid: [350, 400, 450], name: '{n|V (}{i|km s}{sp|−1}{n|)}', gap: 44, series: [[R_V, '#000']]},
      {min: 2.67, max: 32.9, ticks: [10, 20, 30], grid: [10, 20, 30], name: '{i|n}{sb|p}{n| (}{i|cm}{sp|−3}{n|)}', gap: 33, series: [[R_np, '#000']]},
      {log: true, min: 2700, max: 5.0e5, ticks: [1e4, 1e5], grid: [1e4, 1e5], fmt: fmtLogE, name: '{i|T}{sb|p}{n| (K)}', gap: 41, series: [[R_Tp, '#000']],
        right: {min: 0.365, max: 2.0, ticks: [0.5, 1.0, 1.5], fmt: v => v.toFixed(1), name: '{i|T}{sb|p⊥}{n|/}{i|T}{sb|p∥}', gap: 32, data: R_TpRatio}},
      {min: 1.63, max: 19.6, ticks: [5, 10, 15], grid: [5, 10, 15], name: '{i|n}{sb|e}{n| (}{i|cm}{sp|−3}{n|)}', gap: 33, series: [[R_ne, '#000']]},
      {log: true, min: 7.9e4, max: 3.17e5, ticks: [1e5, 2e5, 3e5], grid: [1e5], fmt: fmtLogG, name: '{i|T}{sb|e}{n| (K)}', gap: 52, series: [[R_Te, '#000']],
        right: {min: 0.6, max: 1.2, ticks: [0.6, 0.8, 1.0, 1.2], fmt: v => v.toFixed(1), name: '{i|T}{sbn|e⊥}{n|/}{i|T}{sbn|e∥}', gap: 32, data: R_TeRatio}}
    ]
  }
];

const letters = ['(a)', '(b)', '(c)', '(d)', '(e)', '(f)', '(g)'];
const option = {animation: false, backgroundColor: '#fff', grid: [], xAxis: [], yAxis: [], series: [], legend: [], graphic: []};

columns.forEach((col, ci) => {
  option.graphic.push({type: 'text', x: col.titleX, y: 11, z: 100, style: {text: col.title, font: '17px "DejaVu Sans"', fill: '#000', align: 'center', verticalAlign: 'middle'}});
  col.panels.forEach((p, pi) => {
    const gi = option.grid.length;
    const top = TOP0 + pi * STEP;
    const bottom = pi === 6;
    option.grid.push({left: col.left, top: top, width: col.width, height: PH, show: true, borderColor: '#111', borderWidth: 1.2, backgroundColor: 'transparent'});
    option.xAxis.push({
      type: 'value', gridIndex: gi, min: col.xr[0], max: col.xr[1],
      axisLine: {show: false},
      axisTick: {show: true, inside: true, length: 4, customValues: col.ticks, lineStyle: {color: '#222', width: 1}},
      axisLabel: {show: bottom, customValues: col.lh, fontSize: 17, fontFamily: FONT, color: '#000', lineHeight: 18, margin: 8,
        formatter: v => { const k = col.lh.indexOf(Math.round(v)); return k >= 0 ? col.lt[k] : ''; }},
      splitLine: {show: false},
      name: bottom ? col.xName : '', nameLocation: 'middle', nameGap: 43,
      nameTextStyle: {fontSize: 17, fontFamily: FONT, color: '#000'}
    });
    const yi = option.yAxis.length;
    option.yAxis.push({
      type: p.log ? 'log' : 'value', logBase: 10, gridIndex: gi, min: p.min, max: p.max, position: 'left',
      axisLine: {show: false},
      axisTick: {show: true, inside: false, length: 4, customValues: p.ticks, lineStyle: {color: '#222', width: 1}},
      axisLabel: {customValues: p.ticks, fontSize: 17, fontFamily: FONT, color: '#000', margin: 7, formatter: p.fmt || fmtLin, rich: lblRich},
      splitLine: {show: false},
      name: p.name, nameLocation: 'middle', nameGap: p.gap, nameRotate: 90,
      nameTextStyle: {rich: nameRich, fontSize: 17, fontFamily: FONT, color: '#000'}
    });
    let yr = -1;
    if (p.right) {
      yr = option.yAxis.length;
      option.yAxis.push({
        type: 'value', gridIndex: gi, min: p.right.min, max: p.right.max, position: 'right',
        axisLine: {show: false},
        axisTick: {show: true, inside: false, length: 4, customValues: p.right.ticks, lineStyle: {color: '#222', width: 1}},
        axisLabel: {customValues: p.right.ticks, fontSize: 11, fontFamily: FONT, color: '#000', margin: 7, formatter: p.right.fmt},
        splitLine: {show: false},
        name: p.right.name, nameLocation: 'middle', nameGap: p.right.gap, nameRotate: 90,
        nameTextStyle: {rich: nameRich, fontSize: 17, fontFamily: FONT, color: '#000'}
      });
    }
    option.series.push({
      type: 'line', xAxisIndex: gi, yAxisIndex: yi, data: [], silent: true, z: 1,
      markArea: {silent: true, z: 1, data: col.bands.map((b, k) => [{xAxis: b[0], itemStyle: {color: bandColors[k]}}, {xAxis: b[1]}])}
    });
    option.series.push({
      type: 'line', xAxisIndex: gi, yAxisIndex: yi, data: [], silent: true, z: 2,
      markLine: {silent: true, symbol: ['none', 'none'], label: {show: false}, animation: false,
        lineStyle: {type: [2, 2], color: '#c4c4c4', width: 0.8},
        data: col.lh.map(h => ({xAxis: h})).concat(p.grid.filter(v => v > p.min && v < p.max).map(v => ({yAxis: v})))}
    });
    p.series.forEach(s => {
      option.series.push({
        type: 'line', name: s[2], xAxisIndex: gi, yAxisIndex: yi, data: s[0], showSymbol: false, symbol: 'none', z: 3,
        lineStyle: {color: s[1], width: 1.5}, itemStyle: {color: s[1]}, connectNulls: false, silent: true
      });
    });
    if (p.right) {
      option.series.push({
        type: 'line', xAxisIndex: gi, yAxisIndex: yr, data: p.right.data, showSymbol: false, symbol: 'none', z: 4,
        lineStyle: {color: '#ff0000', width: 1.3}, connectNulls: false, silent: true,
        markLine: {silent: true, symbol: ['none', 'none'], label: {show: false}, animation: false,
          lineStyle: {type: [7, 4], color: '#ff0000', width: 1.7}, data: [{yAxis: 1}]}
      });
    }
    if (p.legend) {
      option.legend.push({
        data: compNames, left: col.legendLeft, top: top + 6, orient: 'horizontal', icon: 'rect',
        itemWidth: 22, itemHeight: 2, itemGap: 22, padding: [5, 9], selectedMode: false,
        backgroundColor: 'rgba(255,255,255,0.85)', borderColor: '#d0d0d0', borderWidth: 1, borderRadius: 3,
        textStyle: {fontSize: 11.5, fontFamily: FONT, color: '#000', padding: [0, 0, 0, 8]}
      });
    }
    option.graphic.push({type: 'text', x: col.left + 4.5, y: top + 7.5, z: 100,
      style: {text: letters[pi], font: '17px "DejaVu Sans"', fill: '#000', align: 'left', verticalAlign: 'top'}});
  });
});

const chart = echarts.init(document.getElementById('c'), null, {renderer: 'canvas'});
chart.setOption(option);
</script>
</body></html>
